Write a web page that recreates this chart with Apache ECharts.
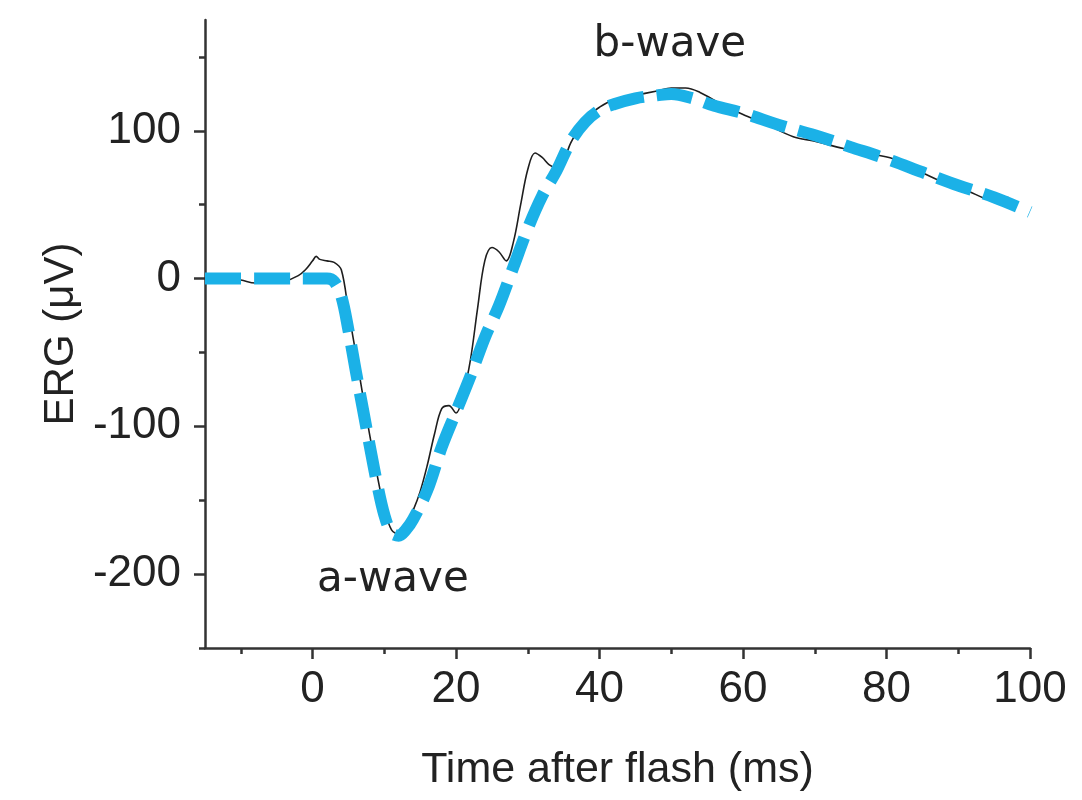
<!DOCTYPE html>
<html>
<head>
<meta charset="UTF-8">
<title>ERG</title>
<script src="https://cdn.jsdelivr.net/npm/echarts@6/dist/echarts.min.js"></script>
<style>
  html, body { margin: 0; padding: 0; background: #fff; }
  #chart { width: 1082px; height: 800px; }
</style>
</head>
<body>
<div id="chart"></div>
<script>
// recorded ERG trace (thin black)
var ergT = [-15, -12, -10, -8, -6, -4, -2, -1, 0, 0.5, 1, 2, 3, 4, 5, 6, 7, 8, 9, 10, 11, 12, 13, 14, 15, 16, 17, 18, 19, 20,
  21, 22, 23, 24, 25, 26, 27, 28, 29, 30, 31, 32, 33, 34, 35, 36, 38, 40, 42, 45, 48, 50, 52, 54, 57, 60, 63, 67, 70, 74,
  77, 81, 84, 88, 91, 95, 97];
var ergV = [0, 0, -1, -3, -3, -2, 2, 6, 12, 15, 13, 12, 11, 6, -22, -50, -79, -107, -133, -156, -170, -173, -167, -157, -144, -126, -105, -88, -86, -91,
  -78, -55, -20, 12, 21, 18, 12, 25, 50, 74, 85, 82, 77, 75, 80, 92, 108, 116, 121, 124, 127, 129, 129, 126, 118, 111, 105, 96, 93, 88,
  85, 81, 74, 65, 60, 53, 55];

// model fit (thick cyan dashed)
var fitT = [-15, -10, -5, 0, 2, 3, 4, 5, 6, 7, 8, 9, 10, 11, 12, 13, 14, 16, 18, 20, 22, 24, 26, 28, 30, 32, 34, 36, 38, 40,
  42, 45, 48, 50, 53, 56, 60, 65, 70, 75, 80, 85, 90, 95, 100];
var fitV = [0, 0, 0, 0, 0, -2, -12, -35, -62, -88, -114, -139, -160, -172, -174, -170, -163, -143, -114, -90, -66, -40, -18, 8, 34, 56, 73, 93, 106, 114,
  118, 122, 124, 125, 122, 117, 112, 104, 97, 89, 81, 72, 63, 55, 45];

var xMajor = [0, 20, 40, 60, 80, 100];
var xMinor = [-10, 10, 30, 50, 70, 90];
var yMajor = [-200, -100, 0, 100];
var yMinor = [-250, -150, -50, 50, 150];

var labelNames = ['a-wave', 'b-wave'];
var labelT = [11.2, 49.8];
var labelV = [-204, 158];

function pairs(t, v) {
  var out = [];
  for (var i = 0; i < t.length; i++) out.push([t[i], v[i]]);
  return out;
}

var ink = '#222';
var axisColor = '#333';
var tickFont = { fontFamily: 'Liberation Sans', fontSize: 44, color: ink };

// tick-only axis sharing the range of the main one
function tickAxis(min, max, pos, values, len) {
  return {
    type: 'value', min: min, max: max, position: pos,
    axisLine: { show: false, onZero: false },
    axisTick: { show: true, length: len, customValues: values, lineStyle: { color: axisColor, width: 2.5 } },
    axisLabel: { show: false },
    splitLine: { show: false }
  };
}

var chart = echarts.init(document.getElementById('chart'));
chart.setOption({
  backgroundColor: '#ffffff',
  animation: false,
  grid: { left: 205, right: 52, top: 20, bottom: 152 },
  xAxis: [{
    type: 'value', min: -15, max: 100, position: 'bottom',
    name: 'Time after flash (ms)', nameLocation: 'middle', nameGap: 101,
    nameTextStyle: { fontFamily: 'Liberation Sans', fontSize: 43, color: ink },
    axisLine: { show: true, onZero: false, lineStyle: { color: axisColor, width: 2.5 } },
    axisTick: { show: false },
    axisLabel: Object.assign({ margin: 20, customValues: xMajor }, tickFont),
    splitLine: { show: false }
  },
    tickAxis(-15, 100, 'bottom', xMajor, 11),
    tickAxis(-15, 100, 'bottom', xMinor, 6)
  ],
  yAxis: [{
    type: 'value', min: -250, max: 175, position: 'left',
    name: 'ERG (μV)', nameLocation: 'middle', nameGap: 120,
    nameTextStyle: { fontFamily: 'Liberation Sans', fontSize: 42, color: ink },
    axisLine: { show: true, onZero: false, lineStyle: { color: axisColor, width: 2.5 } },
    axisTick: { show: false },
    axisLabel: Object.assign({ margin: 24, customValues: yMajor }, tickFont),
    splitLine: { show: false }
  },
    tickAxis(-250, 175, 'left', yMajor, 11),
    tickAxis(-250, 175, 'left', yMinor, 6)
  ],
  series: [{
    name: 'ERG',
    type: 'line',
    data: pairs(ergT, ergV),
    smooth: 0.35,
    showSymbol: false,
    lineStyle: { color: '#1e1e1e', width: 1.6 },
    z: 2
  }, {
    name: 'fit',
    type: 'line',
    data: pairs(fitT, fitV),
    smooth: 0.35,
    showSymbol: false,
    lineStyle: { color: '#1bb1e7', width: 12, type: [36, 13], cap: 'butt', join: 'round' },
    z: 3
  }, {
    name: 'labels',
    type: 'scatter',
    symbolSize: 0,
    itemStyle: { opacity: 1 },
    data: labelNames.map(function (n, i) { return { name: n, value: [labelT[i], labelV[i]] }; }),
    label: {
      show: true, position: 'inside', formatter: '{b}',
      fontFamily: 'DejaVu Sans', fontSize: 42, color: ink, opacity: 1
    },
    silent: true,
    z: 4
  }]
});
</script>
</body>
</html>
